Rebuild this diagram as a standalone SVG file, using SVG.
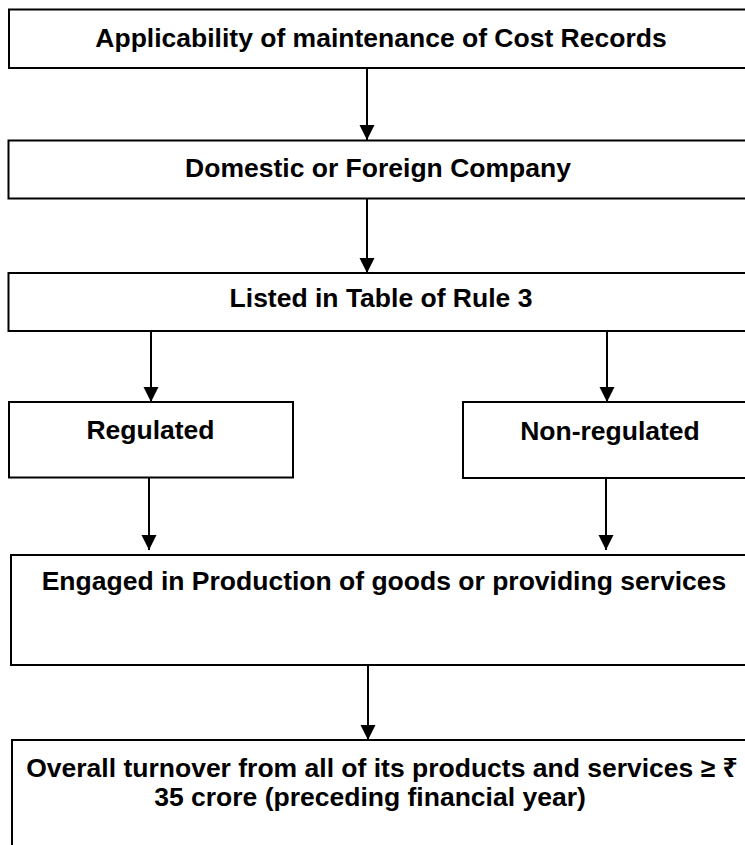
<svg xmlns="http://www.w3.org/2000/svg" width="745" height="845" viewBox="0 0 745 845">
<defs>
<marker id="ah" markerWidth="15" markerHeight="16" refX="15" refY="7.5" orient="auto" markerUnits="userSpaceOnUse">
<path d="M0,0 L15,7.5 L0,15 Z" fill="#000"/>
</marker>
<style>
.box{fill:#fff;stroke:#000;stroke-width:2}
.lbl{font-family:"Liberation Sans","Noto Sans","DejaVu Sans",sans-serif;font-weight:bold;font-size:26.5px;fill:#000;text-anchor:middle}
.con{stroke:#000;stroke-width:2;fill:none}
</style>
</defs>
<rect width="745" height="845" fill="#fff"/>
<g id="n1"><rect class="box" x="9" y="9.5" width="745" height="58.5"/><text class="lbl" x="381" y="47">Applicability of maintenance of Cost Records</text></g>
<g id="n2"><rect class="box" x="8.5" y="140.5" width="745" height="58"/><text class="lbl" x="378" y="177">Domestic or Foreign Company</text></g>
<g id="n3"><rect class="box" x="8.5" y="273" width="745" height="58"/><text class="lbl" x="381" y="307">Listed in Table of Rule 3</text></g>
<g id="n4"><rect class="box" x="9" y="402" width="284" height="75.5"/><text class="lbl" x="150.5" y="439">Regulated</text></g>
<g id="n5"><rect class="box" x="463" y="402" width="290" height="76"/><text class="lbl" x="610" y="440">Non-regulated</text></g>
<g id="n6"><rect class="box" x="11" y="555" width="745" height="110"/><text class="lbl" x="384" y="590">Engaged in Production of goods or providing services</text></g>
<g id="n7"><rect class="box" x="12" y="740" width="745" height="120"/><text class="lbl" x="382" y="777">Overall turnover from all of its products and services ≥ ₹</text><text class="lbl" x="370" y="806">35 crore (preceding financial year)</text></g>
<g id="connectors">
<line class="con" x1="367" y1="68" x2="367" y2="140" marker-end="url(#ah)"/>
<line class="con" x1="367" y1="198.5" x2="367" y2="273" marker-end="url(#ah)"/>
<line class="con" x1="151" y1="331" x2="151" y2="402" marker-end="url(#ah)"/>
<line class="con" x1="607" y1="331" x2="607" y2="402" marker-end="url(#ah)"/>
<line class="con" x1="149" y1="477.5" x2="149" y2="550" marker-end="url(#ah)"/>
<line class="con" x1="606" y1="478" x2="606" y2="550" marker-end="url(#ah)"/>
<line class="con" x1="368" y1="665" x2="368" y2="740" marker-end="url(#ah)"/>
</g>
</svg>
